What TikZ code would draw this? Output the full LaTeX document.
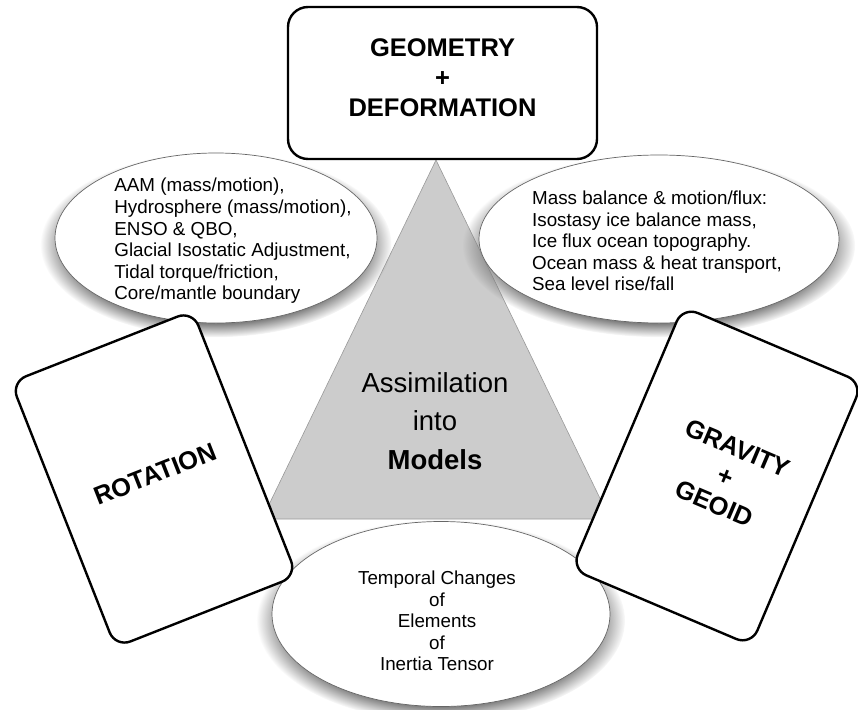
\documentclass[tikz,border=0pt]{standalone}
\usepackage{fontspec}
\setmainfont{Liberation Sans}
\usetikzlibrary{shapes.geometric,shadows}
\begin{document}
\begin{tikzpicture}[x=1pt,y=-1pt,
bubble/.style={ellipse,draw=black!60,line width=0.7pt,fill=white,inner sep=0pt,
  circular drop shadow={shadow scale=1.09,shadow xshift=0pt,shadow yshift=-6pt,opacity=1}},
bubbletext/.style={align=left,font=\fontsize{18.8}{21.6}\selectfont},
card/.style={draw,line width=2.4pt,rounded corners=16pt,fill=white,minimum width=195pt,
  minimum height=285pt,align=center,font=\bfseries\fontsize{25.5}{30}\selectfont}]
\useasboundingbox (0,0) rectangle (858,709);
% central triangle
\coordinate (apex) at (436,160);
\coordinate (baseL) at (262,519);
\coordinate (baseR) at (610,519);
\draw[draw=black!40,fill=black!20,line width=0.6pt](apex)--(baseL)--(baseR)--cycle;
\node[align=center,font=\fontsize{27.5}{38.5}\selectfont] (assim) at (435,421) {Assimilation\\into\\\textbf{Models}};
% bubbles
\node[bubble,minimum width=322pt,minimum height=170pt] (rotbub) at (216,238) {};
\node[bubbletext] (rottxt) at (233,241) {AAM (mass/motion),\\Hydrosphere (mass/motion),\\ENSO \& QBO,\\Glacial Isostatic Adjustment,\\Tidal torque/friction,\\Core/mantle boundary};
\node[bubble,minimum width=360pt,minimum height=168pt] (gravbub) at (659,239) {};
\node[bubbletext] (gravtxt) at (657,241) {Mass balance \& motion/flux:\\Isostasy ice balance mass,\\Ice flux ocean topography.\\Ocean mass \& heat transport,\\Sea level rise/fall};
\node[bubble,minimum width=338pt,minimum height=185pt] (inbub) at (441,614) {};
\node[bubbletext,align=center] (intxt) at (437,621) {Temporal Changes\\of\\Elements\\of\\Inertia Tensor};
% boxes
\node[draw,line width=2.4pt,rounded corners=20pt,fill=white,minimum width=309pt,minimum height=152pt] (geom) at (442.5,83) {};
\node[align=center,font=\bfseries\fontsize{25.5}{30}\selectfont] (geomtxt) at (442.5,78) {GEOMETRY\\+\\DEFORMATION};
\node[card,rotate=21.5] (rot) at (154,479) {};
\node[font=\bfseries\fontsize{25.5}{30}\selectfont,rotate=21.5] (rottitle) at (155,474) {ROTATION};
\node[card,rotate=-23] (grav) at (717,476) {};
\node[align=center,font=\bfseries\fontsize{25.5}{30}\selectfont,rotate=-23] (gravtitle) at (726,476) {GRAVITY\\+\\GEOID};
\end{tikzpicture}
\end{document}
